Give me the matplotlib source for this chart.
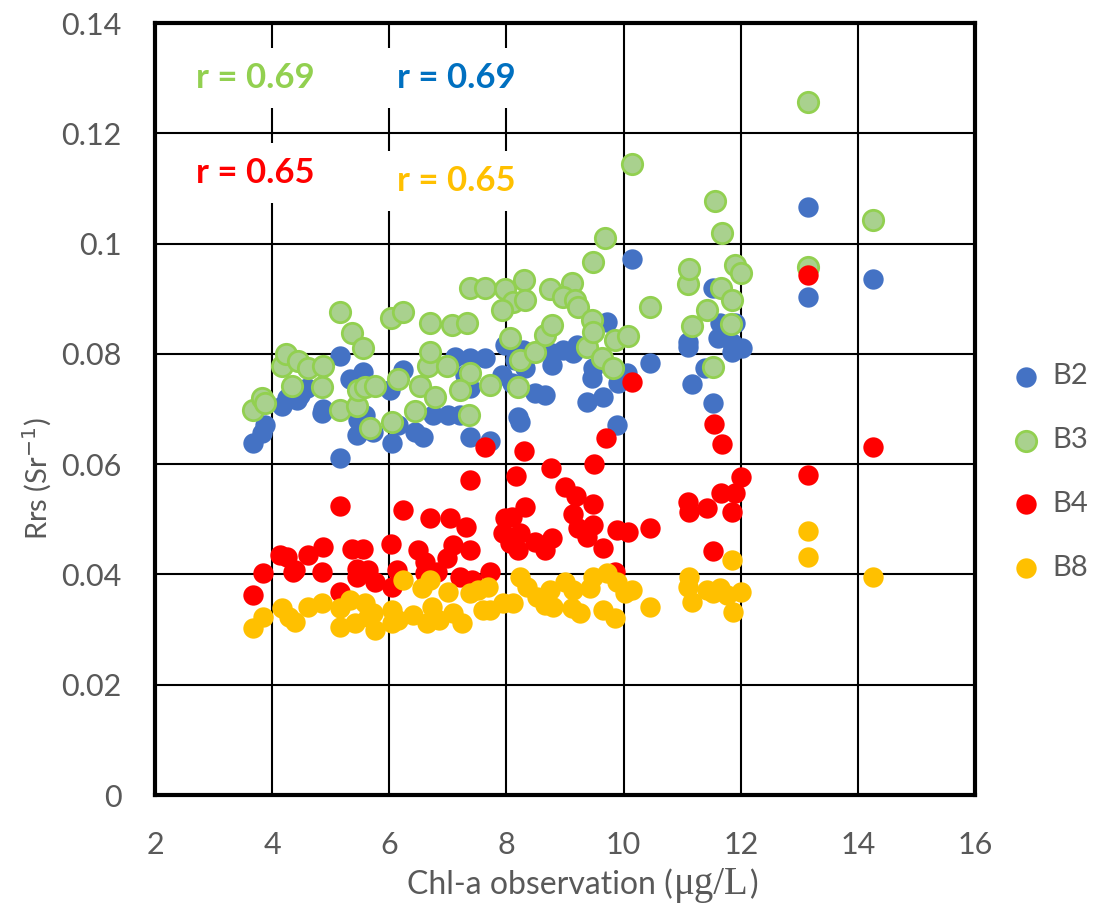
import matplotlib
matplotlib.use('Agg')
import matplotlib.pyplot as plt
from matplotlib.offsetbox import TextArea, HPacker, AnchoredOffsetbox

# Chl-a observation (ug/L) vs remote-sensing reflectance per band
b2_x = [3.67, 3.83, 3.88, 4.17, 4.25, 4.42, 4.48, 4.60, 4.85, 4.87, 5.16, 5.16, 5.33, 5.45,
        5.47, 5.55, 5.59, 5.72, 6.01, 6.05, 6.15, 6.23, 6.44, 6.58, 6.75, 7.00, 7.20, 7.12,
        7.38, 7.63, 7.38, 7.29, 7.98, 7.92, 8.10, 8.15, 8.28, 8.32, 8.20, 8.23, 8.49, 8.66,
        8.78, 8.78, 8.97, 9.14, 9.20, 9.38, 9.48, 9.46, 9.65, 9.72, 9.89, 9.90, 10.06, 7.38,
        7.72, 10.14, 10.45, 11.10, 11.10, 11.17, 11.39, 11.53, 11.53, 11.65, 11.61, 11.85,
        11.85, 11.90, 12.02, 13.15, 13.15, 14.25]
b2_y = [0.0638, 0.0657, 0.0671, 0.0705, 0.0720, 0.0716, 0.0725, 0.0738, 0.0693, 0.0700,
        0.0796, 0.0611, 0.0754, 0.0653, 0.0680, 0.0767, 0.0690, 0.0658, 0.0734, 0.0638,
        0.0671, 0.0771, 0.0658, 0.0649, 0.0689, 0.0689, 0.0689, 0.0794, 0.0792, 0.0792,
        0.0738, 0.0762, 0.0816, 0.0762, 0.0747, 0.0789, 0.0807, 0.0774, 0.0686, 0.0676,
        0.0729, 0.0725, 0.0802, 0.0780, 0.0807, 0.0802, 0.0816, 0.0713, 0.0774, 0.0756,
        0.0722, 0.0858, 0.0671, 0.0747, 0.0765, 0.0650, 0.0642, 0.0972, 0.0783, 0.0822,
        0.0813, 0.0745, 0.0774, 0.0711, 0.0920, 0.0856, 0.0829, 0.0820, 0.0803, 0.0856,
        0.0810, 0.1067, 0.0903, 0.0936]

b3_x = [3.67, 3.83, 3.88, 4.17, 4.24, 4.44, 4.61, 4.87, 4.34, 4.85, 5.16, 5.36, 5.55, 5.16,
        5.45, 5.47, 5.59, 5.76, 5.67, 6.03, 6.23, 6.15, 6.05, 6.44, 6.52, 6.66, 6.70, 6.70,
        7.07, 7.33, 6.98, 7.38, 6.78, 7.20, 7.36, 7.72, 7.38, 7.63, 7.98, 8.30, 8.11, 8.32,
        7.92, 8.06, 8.23, 8.20, 8.49, 8.66, 8.78, 8.74, 9.12, 8.97, 9.17, 9.22, 9.38, 9.46,
        9.48, 9.48, 9.68, 9.63, 9.82, 9.85, 10.08, 10.14, 10.45, 11.10, 11.12, 11.17, 11.42,
        11.53, 11.56, 11.66, 11.68, 11.83, 11.85, 11.90, 12.00, 13.15, 13.15, 14.25]
b3_y = [0.0698, 0.0720, 0.0711, 0.0778, 0.0800, 0.0787, 0.0774, 0.0778, 0.0742, 0.0740,
        0.0876, 0.0838, 0.0811, 0.0698, 0.0705, 0.0734, 0.0740, 0.0742, 0.0666, 0.0865,
        0.0876, 0.0754, 0.0676, 0.0696, 0.0742, 0.0778, 0.0803, 0.0856, 0.0852, 0.0856,
        0.0778, 0.0765, 0.0722, 0.0734, 0.0689, 0.0744, 0.0920, 0.0920, 0.0918, 0.0934,
        0.0894, 0.0898, 0.0880, 0.0829, 0.0789, 0.0740, 0.0803, 0.0834, 0.0852, 0.0918,
        0.0929, 0.0903, 0.0898, 0.0885, 0.0812, 0.0861, 0.0840, 0.0967, 0.1010, 0.0793,
        0.0774, 0.0825, 0.0832, 0.1144, 0.0885, 0.0927, 0.0954, 0.0851, 0.0880, 0.0776,
        0.1077, 0.0920, 0.1019, 0.0854, 0.0898, 0.0961, 0.0947, 0.1257, 0.0957, 0.1043]

b4_x = [3.67, 3.85, 4.13, 4.25, 4.36, 4.39, 4.61, 4.87, 4.85, 5.16, 5.16, 5.36, 5.55, 5.45,
        5.45, 5.64, 5.76, 6.03, 6.05, 6.13, 6.23, 6.49, 6.61, 6.61, 6.70, 6.82, 6.98, 7.03,
        7.09, 7.21, 7.31, 7.38, 7.38, 7.41, 7.63, 7.72, 7.94, 7.98, 8.06, 8.10, 8.16, 8.20,
        8.23, 8.30, 8.32, 8.49, 8.66, 8.76, 8.78, 9.00, 9.14, 9.19, 9.22, 9.38, 9.48, 9.48,
        9.50, 9.65, 9.70, 9.85, 9.89, 10.08, 10.14, 10.45, 11.10, 11.12, 11.42, 11.53, 11.54,
        11.66, 11.68, 11.85, 11.90, 12.00, 13.15, 13.15, 14.25]
b4_y = [0.0363, 0.0402, 0.0435, 0.0432, 0.0404, 0.0408, 0.0435, 0.0450, 0.0404, 0.0524,
        0.0368, 0.0446, 0.0446, 0.0395, 0.0410, 0.0408, 0.0386, 0.0455, 0.0377, 0.0408,
        0.0517, 0.0444, 0.0423, 0.0402, 0.0502, 0.0404, 0.0430, 0.0502, 0.0453, 0.0395,
        0.0486, 0.0571, 0.0444, 0.0390, 0.0631, 0.0404, 0.0475, 0.0502, 0.0457, 0.0505,
        0.0579, 0.0444, 0.0475, 0.0624, 0.0522, 0.0459, 0.0444, 0.0593, 0.0466, 0.0559,
        0.0510, 0.0542, 0.0484, 0.0468, 0.0528, 0.0490, 0.0600, 0.0448, 0.0647, 0.0404,
        0.0480, 0.0477, 0.0749, 0.0484, 0.0531, 0.0513, 0.0520, 0.0442, 0.0673, 0.0548,
        0.0637, 0.0513, 0.0548, 0.0577, 0.0943, 0.0580, 0.0631]

b8_x = [3.67, 3.85, 4.17, 4.29, 4.39, 4.61, 4.85, 5.16, 5.16, 5.33, 5.41, 5.59, 5.64, 5.76,
        5.72, 6.05, 6.05, 6.23, 6.15, 6.40, 6.56, 6.70, 6.73, 6.64, 6.85, 7.00, 7.09, 7.24,
        7.38, 7.51, 7.60, 7.68, 7.72, 7.94, 8.11, 8.23, 8.35, 8.52, 8.66, 8.79, 8.74, 9.00,
        9.14, 9.12, 9.26, 9.43, 9.48, 9.72, 9.89, 9.65, 9.85, 10.14, 10.02, 10.45, 11.12,
        11.10, 11.17, 11.42, 11.65, 11.53, 11.85, 11.87, 12.00, 11.76, 13.15, 13.15, 14.25]
b8_y = [0.0303, 0.0323, 0.0339, 0.0322, 0.0314, 0.0341, 0.0348, 0.0339, 0.0305, 0.0354,
        0.0312, 0.0348, 0.0323, 0.0299, 0.0330, 0.0336, 0.0312, 0.0390, 0.0318, 0.0326,
        0.0375, 0.0390, 0.0341, 0.0312, 0.0318, 0.0368, 0.0330, 0.0312, 0.0366, 0.0372,
        0.0336, 0.0377, 0.0336, 0.0348, 0.0348, 0.0395, 0.0377, 0.0359, 0.0345, 0.0341,
        0.0372, 0.0386, 0.0372, 0.0339, 0.0330, 0.0375, 0.0395, 0.0403, 0.0386, 0.0336,
        0.0321, 0.0372, 0.0366, 0.0341, 0.0395, 0.0377, 0.0350, 0.0372, 0.0375, 0.0366,
        0.0426, 0.0332, 0.0368, 0.0363, 0.0479, 0.0431, 0.0396]

# correlation labels: (text, x, y, colour)
r_labels = [("r = 0.69", 3.71, 0.1300, "#92D050"),
            ("r = 0.69", 7.14, 0.1300, "#0070C0"),
            ("r = 0.65", 3.71, 0.1128, "#FF0000"),
            ("r = 0.65", 7.14, 0.1113, "#FFC000")]

plt.rcParams['font.family'] = ['Lato', 'DejaVu Sans']
grey = '#595959'

fig = plt.figure(figsize=(11.18, 9.15), dpi=100)
ax = fig.add_axes([0.1386, 0.1311, 0.7335, 0.8437])

ms = 215
ax.scatter(b2_x, b2_y, s=ms, color='#4472C4', linewidths=0, label='B2', zorder=3)
ax.scatter(b3_x, b3_y, s=ms, facecolor='#A9D18E', edgecolor='#92D050', linewidths=2,
           label='B3', zorder=3)
ax.scatter(b4_x, b4_y, s=ms, color='#FF0000', linewidths=0, label='B4', zorder=3)
ax.scatter(b8_x, b8_y, s=ms, color='#FFC000', linewidths=0, label='B8', zorder=3)

ax.set_xlim(2, 16)
ax.set_ylim(0, 0.14)
ax.set_xticks(range(2, 17, 2))
ax.set_yticks([0, 0.02, 0.04, 0.06, 0.08, 0.1, 0.12, 0.14])
ax.set_yticklabels(['0', '0.02', '0.04', '0.06', '0.08', '0.1', '0.12', '0.14'])
ax.grid(True, color='black', linewidth=1.5, zorder=0)
ax.set_axisbelow(True)
for s in ax.spines.values():
    s.set_linewidth(3)
    s.set_color('black')
ax.tick_params(length=0, labelsize=22, labelcolor=grey)
ax.tick_params(axis='y', pad=24)
ax.tick_params(axis='x', pad=26)

# x label: sans text with a serif unit, as one centred row
xlab = HPacker(children=[
    TextArea("Chl-a observation (", textprops=dict(fontsize=23, color=grey)),
    TextArea("\u03bcg/L", textprops=dict(fontsize=28, color=grey, family='Liberation Serif')),
    TextArea(")", textprops=dict(fontsize=23, color=grey)),
], pad=0, sep=1, align='baseline')
fig.add_artist(AnchoredOffsetbox(loc='center', child=xlab, frameon=False, pad=0,
                                 borderpad=0, bbox_to_anchor=(0.5215, 0.033),
                                 bbox_transform=fig.transFigure))

fig.text(0.033, 0.477, 'Rrs (Sr$^{-1}$)', rotation=90, fontsize=21, color=grey,
         ha='center', va='center')

for txt, x, y, c in r_labels:
    ax.text(x, y, txt, color=c, fontsize=25, fontweight='bold', ha='center', va='center',
            zorder=4, bbox=dict(facecolor='white', edgecolor='none', pad=10))

fig.legend(loc='center left', bbox_to_anchor=(0.905, 0.484), frameon=False, fontsize=21,
           labelcolor=grey, labelspacing=1.3, handletextpad=0.4, handlelength=1.0,
           borderpad=0, borderaxespad=0)

fig.savefig('out.png', dpi=100)
